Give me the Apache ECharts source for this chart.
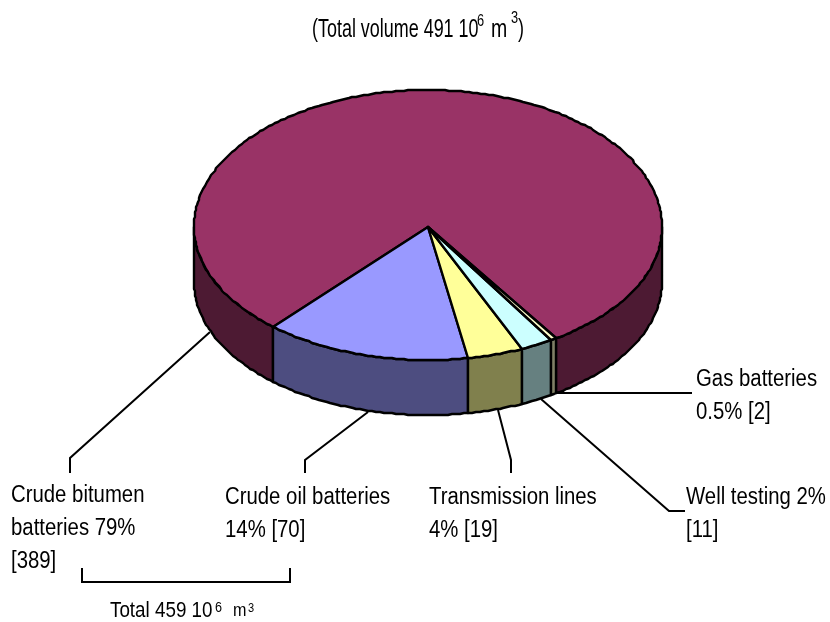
<!DOCTYPE html>
<html>
<head>
<meta charset="utf-8">
<style>
  html, body { margin: 0; padding: 0; background: #fff; }
  #chart { width: 830px; height: 622px; }
</style>
<script src="https://cdn.jsdelivr.net/npm/echarts@6/dist/echarts.min.js"></script>
</head>
<body>
<div id="chart"></div>
<script>
// volumes, 10^6 m3
var categories = ['Crude bitumen batteries', 'Crude oil batteries', 'Transmission lines', 'Well testing', 'Gas batteries']
var values = [389, 70, 19, 11, 2]
var labelLines = [
  ['Crude bitumen', 'batteries 79%', '[389]'],
  ['Crude oil batteries', '14% [70]'],
  ['Transmission lines', '4% [19]'],
  ['Well testing 2%', '[11]'],
  ['Gas batteries', '0.5% [2]']
]

var topColors = ['#993366', '#9999FF', '#FFFF99', '#CCFFFF', '#FFFFCC']
var sideColors = ['#4D1A33', '#4D4D80', '#80804D', '#668080', '#808066']

var FONT = '"Liberation Sans", sans-serif'
var CX = 428, CY = 227, RX = 234, RY_BACK = 137, RY_FRONT = 133, DEPTH = 55
var START = -326.7 // angle from straight down, going round to the right
var STEP = 1 // rim snaps to whole pixels, the original has a stepped edge

var total = values.reduce(function (a, b) { return a + b }, 0)

function pt(deg, dy) {
  var r = deg * Math.PI / 180
  var c = Math.cos(r)
  var x = CX + RX * Math.sin(r)
  var y = CY + (c > 0 ? RY_FRONT : RY_BACK) * c
  return [Math.round(x), Math.round(y) + (dy || 0)]
}

function arc(a0, a1, dy) {
  var pts = []
  var n = Math.max(1, Math.ceil(Math.abs(a1 - a0) / STEP))
  for (var i = 0; i <= n; i++) {
    pts.push(pt(a0 + (a1 - a0) * i / n, dy))
  }
  return pts
}

function renderSlice(params, api) {
  var i = params.dataIndex
  var before = 0
  for (var j = 0; j < i; j++) before += values[j]
  var a0 = START + before / total * 360
  var a1 = a0 + api.value(0) / total * 360
  var children = []

  // side wall, only the part facing the viewer
  ;[-360, 0, 360].forEach(function (k) {
    var s = Math.max(a0, k - 90)
    var e = Math.min(a1, k + 90)
    if (e <= s) return
    children.push({
      type: 'polygon',
      shape: { points: arc(s, e, 0).concat(arc(e, s, DEPTH)) },
      style: { fill: sideColors[i], stroke: '#000', lineWidth: 2.4, lineJoin: 'round' }
    })
  })

  children.push({
    type: 'polygon',
    shape: { points: [[CX, CY]].concat(arc(a0, a1, 0)) },
    style: { fill: topColors[i], stroke: '#000', lineWidth: 2.4, lineJoin: 'round' }
  })
  return { type: 'group', children: children }
}

function line(points, width) {
  return {
    type: 'polyline',
    shape: { points: points },
    style: { fill: null, stroke: '#000', lineWidth: width || 2 }
  }
}

function text(str, x, y, size, scaleX) {
  return {
    type: 'text',
    x: x,
    y: y,
    scaleX: scaleX,
    style: { text: str, fill: '#000', font: size + 'px ' + FONT, textVerticalAlign: 'middle' }
  }
}

function labelBlock(lines, x, y) {
  return lines.map(function (s, i) {
    return text(s, x, y + i * 33, 23, 0.885)
  })
}

var chart = echarts.init(document.getElementById('chart'), null, { renderer: 'canvas' })

chart.setOption({
  animation: false,
  backgroundColor: '#fff',
  series: [{
    type: 'custom',
    coordinateSystem: 'none',
    silent: true,
    data: values.map(function (v, i) { return { name: categories[i], value: [v] } }),
    renderItem: renderSlice
  }],
  graphic: {
    elements: [
      // leader lines
      line([[210, 332], [70, 458], [70, 473]]),
      line([[368, 412], [305, 460], [305, 473]]),
      line([[498, 410], [511, 460], [511, 473]]),
      line([[541, 399], [669, 511], [685, 511]]),
      line([[555, 393], [692, 393]]),
      // bracket under the two battery groups
      line([[82, 568], [82, 582], [290, 582], [290, 568]])
    ].concat(
      labelBlock(labelLines[0], 11, 496),
      labelBlock(labelLines[1], 225, 498),
      labelBlock(labelLines[2], 429, 498),
      labelBlock(labelLines[3], 686, 498),
      labelBlock(labelLines[4], 696, 380),
      [
        text('(Total volume 491 10', 312, 30, 26, 0.69),
        text('6', 477, 22, 16, 0.8),
        text('m', 491, 30, 26, 0.75),
        text('3', 511, 19, 16, 0.8),
        text(')', 518, 30, 26, 0.69),
        text('Total 459 10', 110, 611, 22, 0.855),
        text('6', 215, 608, 14, 0.9),
        text('m', 233, 611, 19, 0.85),
        text('3', 248, 608, 13, 0.85)
      ]
    )
  }
})
</script>
</body>
</html>
